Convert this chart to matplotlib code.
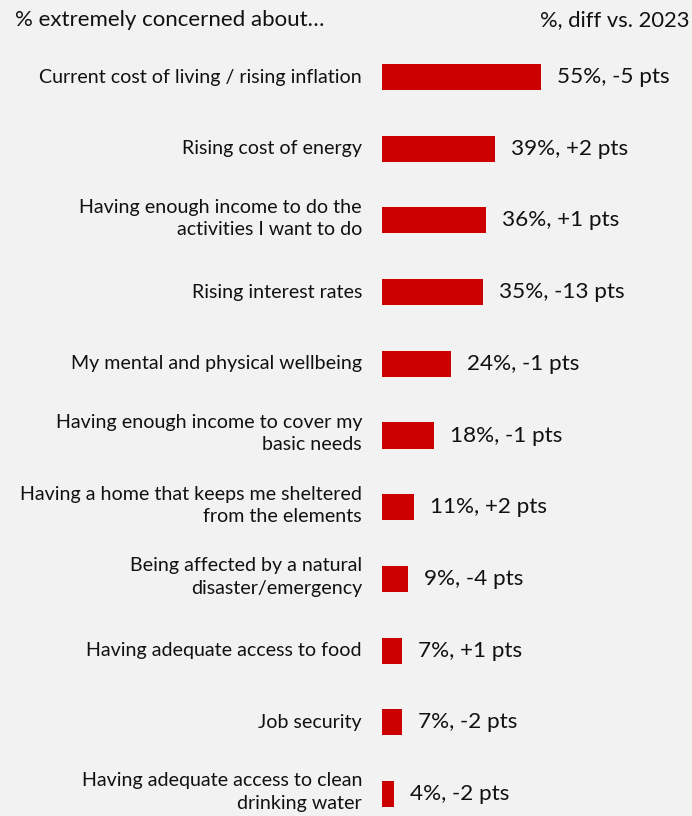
import matplotlib.pyplot as plt

plt.rcParams['font.family'] = ['Lato', 'DejaVu Sans']

concerns = [
    'Current cost of living / rising inflation',
    'Rising cost of energy',
    'Having enough income to do the\nactivities I want to do',
    'Rising interest rates',
    'My mental and physical wellbeing',
    'Having enough income to cover my\nbasic needs',
    'Having a home that keeps me sheltered\nfrom the elements',
    'Being affected by a natural\ndisaster/emergency',
    'Having adequate access to food',
    'Job security',
    'Having adequate access to clean\ndrinking water',
]
pct_2024 = [55, 39, 36, 35, 24, 18, 11, 9, 7, 7, 4]
diff_vs_2023 = [-5, 2, 1, -13, -1, -1, 2, -4, 1, -2, -2]

bg = '#f2f2f2'
bar_red = '#cc0000'

fig = plt.figure(figsize=(6.92, 8.16), dpi=100, facecolor=bg)
ax = fig.add_axes([382 / 692, 0, 310 / 692, 1])
ax.set_facecolor(bg)

rows = list(range(len(concerns)))
ax.barh(rows, pct_2024, height=0.365, color=bar_red, align='center')

ax.set_xlim(0, 310 / 2.89)
ax.set_ylim(10 + 22 / 71.7, -77 / 71.7)
ax.axis('off')

for i, (name, v, d) in enumerate(zip(concerns, pct_2024, diff_vs_2023)):
    # two-line labels sit a little higher than the bar centre
    dy = 2 if '\n' in name else 0
    ax.annotate(name, xy=(0, i), xytext=(-20, dy), textcoords='offset pixels',
                ha='right', va='center', fontsize=14.1, color='#111111',
                linespacing=1.38, annotation_clip=False)
    ax.annotate(f'{v}%, {d:+d} pts', xy=(v, i), xytext=(16, 0),
                textcoords='offset pixels', ha='left', va='center',
                fontsize=16.2, color='#111111', annotation_clip=False)

fig.text(15 / 692, 1 - 20 / 816, '% extremely concerned about\u2026',
         ha='left', va='center', fontsize=16, color='#111111')
fig.text(689 / 692, 1 - 20 / 816, '%, diff vs. 2023',
         ha='right', va='center', fontsize=15.8, color='#111111')

fig.savefig('out.png', dpi=100, facecolor=bg)
